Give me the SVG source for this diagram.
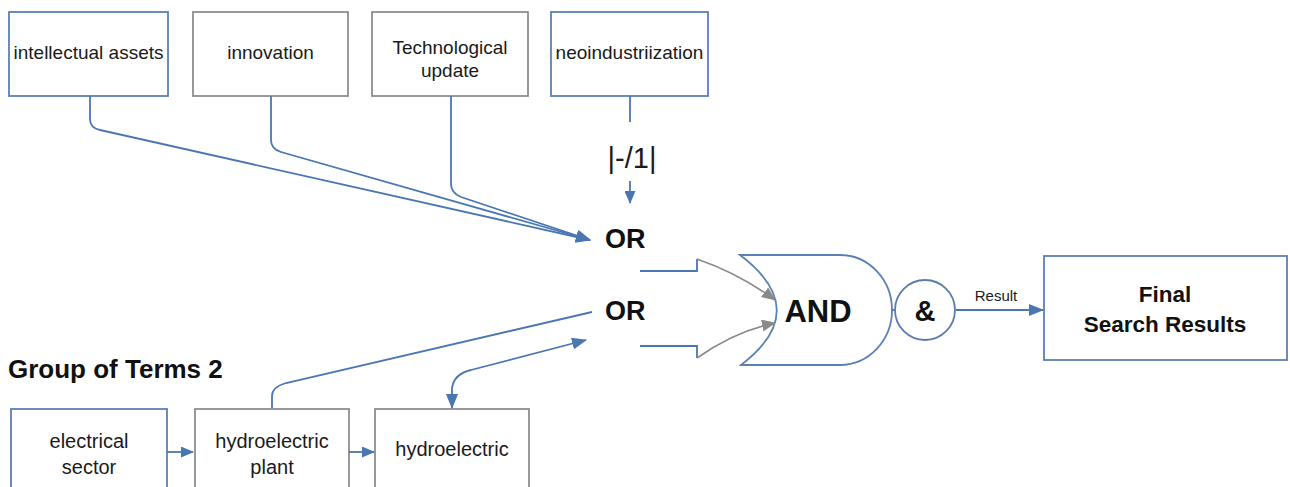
<svg xmlns="http://www.w3.org/2000/svg" width="1290" height="487" viewBox="0 0 1290 487">
<style>
.bb{fill:#fff;stroke:#5b80b6;stroke-width:1.8}
.bg{fill:#fff;stroke:#8e8e8e;stroke-width:1.8}
.t{font-family:"Liberation Sans",Arial,sans-serif;fill:#1a1a1a;text-anchor:middle}
.tb{font-family:"Liberation Sans",Arial,sans-serif;fill:#111;font-weight:bold}
.c{fill:none;stroke:#4a76b2;stroke-width:1.8}
.cg{fill:none;stroke:#8a8a8a;stroke-width:1.6}
</style>
<defs>
<marker id="ab" markerUnits="userSpaceOnUse" markerWidth="16" markerHeight="12" refX="14" refY="6" orient="auto-start-reverse"><path d="M0,0 L15,6 L0,12 z" fill="#4a76b2"/></marker>
<marker id="as" markerUnits="userSpaceOnUse" markerWidth="13" markerHeight="11" refX="12" refY="5.5" orient="auto"><path d="M0,0 L13,5.5 L0,11 z" fill="#4a76b2"/></marker>
<marker id="ag" markerUnits="userSpaceOnUse" markerWidth="14" markerHeight="12" refX="13" refY="6" orient="auto"><path d="M0,0 L14,6 L0,12 z" fill="#8a8a8a"/></marker>
</defs>
<rect width="1290" height="487" fill="#fff"/>

<g id="n-intellectual"><rect class="bb" x="9" y="12" width="159" height="84"/><text class="t" x="88.5" y="59" font-size="19">intellectual assets</text></g>
<g id="n-innovation"><rect class="bg" x="193" y="12" width="155" height="84"/><text class="t" x="270.5" y="59" font-size="19">innovation</text></g>
<g id="n-tech"><rect class="bg" x="372" y="12" width="156" height="84"/><text class="t" x="450" y="54" font-size="19">Technological</text><text class="t" x="450" y="77" font-size="19">update</text></g>
<g id="n-neo"><rect class="bb" x="551" y="12" width="157" height="84"/><text class="t" x="629.5" y="59" font-size="19">neoindustriization</text></g>

<g id="n-label1"><text class="t" x="632" y="168" font-size="29">|-/1|</text></g>
<g id="n-or1"><text class="tb" x="605" y="248" font-size="27">OR</text></g>
<g id="n-or2"><text class="tb" x="605" y="320" font-size="27">OR</text></g>

<g id="n-and"><path class="bb" d="M740,255 H840 A52,55 0 0 1 840,365 H741 Q813,310 740,255 z"/><text class="tb" x="818" y="322" font-size="31" text-anchor="middle">AND</text></g>
<g id="n-amp"><circle cx="925" cy="310" r="30" fill="#fff" stroke="#5a7ca8" stroke-width="1.8"/><text class="tb" x="925" y="321" font-size="29" text-anchor="middle">&amp;</text></g>
<g id="l-result"><text class="t" x="996" y="301" font-size="15">Result</text></g>
<g id="n-final"><rect class="bb" x="1044" y="256" width="243" height="104"/><text class="tb" x="1165" y="302" font-size="22.5" text-anchor="middle">Final</text><text class="tb" x="1165" y="332" font-size="22.5" text-anchor="middle">Search Results</text></g>

<g id="n-group2"><text class="tb" x="8" y="378" font-size="26">Group of Terms 2</text></g>
<g id="n-electrical"><rect class="bb" x="11" y="409" width="156" height="95"/><text class="t" x="89" y="448" font-size="20">electrical</text><text class="t" x="89" y="474" font-size="20">sector</text></g>
<g id="n-hplant"><rect class="bg" x="195" y="409" width="154" height="95"/><text class="t" x="272" y="448" font-size="20">hydroelectric</text><text class="t" x="272" y="474" font-size="20">plant</text></g>
<g id="n-hydro"><rect class="bg" x="375" y="409" width="154" height="95"/><text class="t" x="452" y="456" font-size="20">hydroelectric</text></g>

<g id="connectors">
<path class="c" d="M90,96 V119 Q90,128 100,130 L590,240" marker-end="url(#ab)"/>
<path class="c" d="M271,96 V140 Q271,149 281,152 L590,240" marker-end="url(#ab)"/>
<path class="c" d="M451,96 V184 Q451,193 461,197 L590,240" marker-end="url(#ab)"/>
<path class="c" d="M630,96 V122"/>
<path class="c" d="M630,181 V203" marker-end="url(#as)"/>
<path class="c" d="M640,271 H697 V259"/>
<path class="cg" d="M697,259 Q740,274 775,300" marker-end="url(#ag)"/>
<path class="c" d="M640,346 H697 V358"/>
<path class="cg" d="M697,358 Q735,331 775,323" marker-end="url(#ag)"/>
<path class="c" d="M892,310 H895"/>
<path class="c" d="M956,310 H1043" marker-end="url(#ab)"/>
<path class="c" d="M272,408 V396 Q272,387 286,383 L592,312"/>
<path class="c" d="M452,408 V388 Q454,374 471,370 L586,340" marker-start="url(#ab)" marker-end="url(#ab)"/>
<path class="c" d="M167,452 H193" marker-end="url(#as)"/>
<path class="c" d="M349,452 H374" marker-end="url(#as)"/>
</g>
</svg>
